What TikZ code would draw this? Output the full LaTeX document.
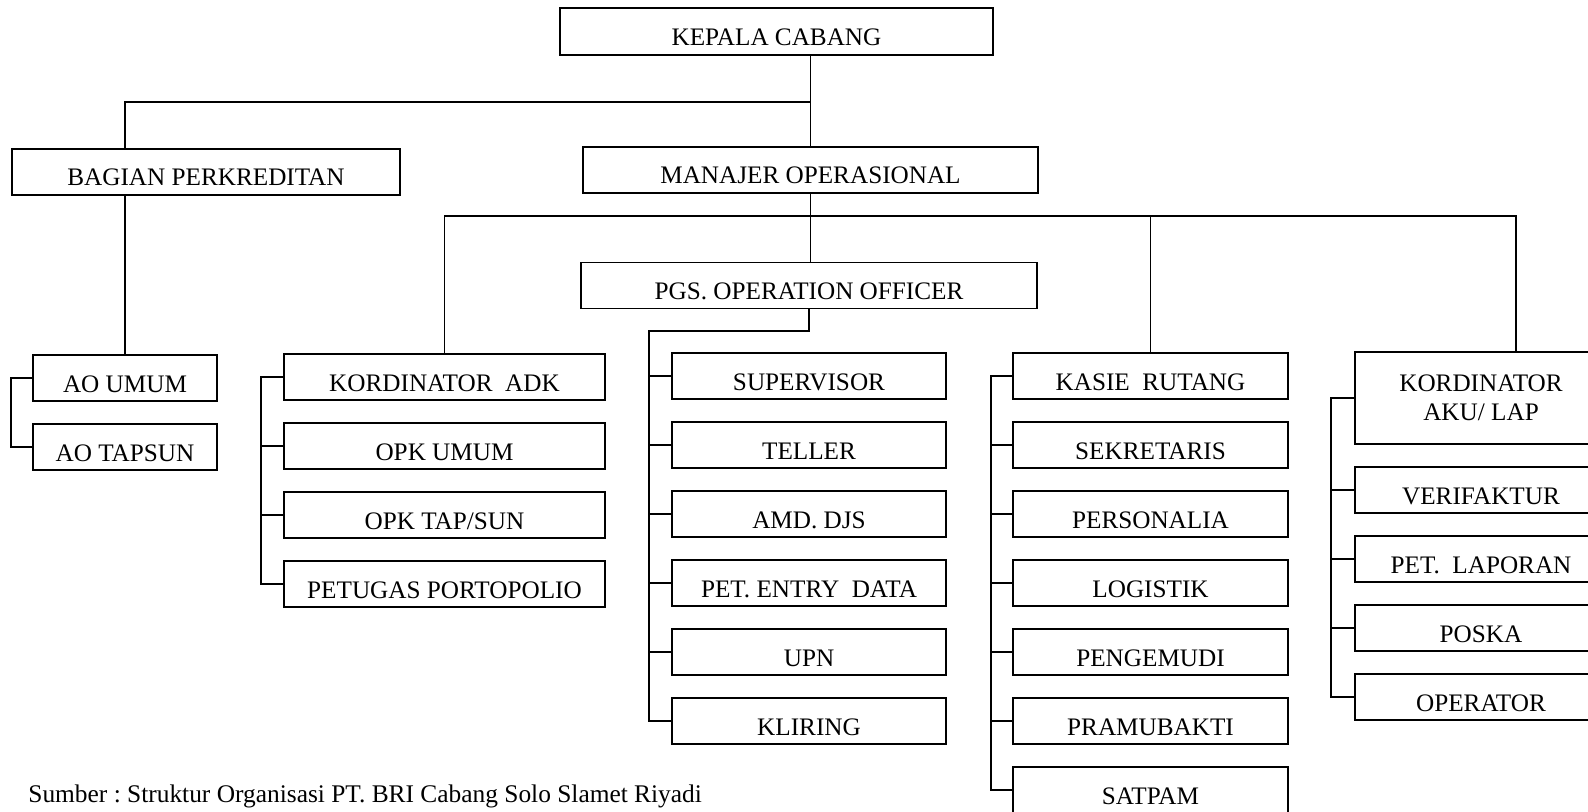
\documentclass[tikz,border=0pt]{standalone}
\usepackage{fontspec}
\setmainfont{Liberation Serif}
\usetikzlibrary{positioning}
\frenchspacing

\begin{document}
\begin{tikzpicture}[
  x=0.5pt, y=-0.5pt,
  node distance=11.5pt,
  box/.style={draw, line width=0.9pt, inner sep=0pt, outer sep=0pt, minimum height=23pt, text height=14pt, text depth=0pt, font=\fontsize{12.6}{14.5}\selectfont},
  aobox/.style={box, minimum width=92pt},
  adkbox/.style={box, minimum width=160.5pt},
  pgsbox/.style={box, minimum width=137pt},
  kasiebox/.style={box, minimum width=137.5pt},
  akubox/.style={box, minimum width=126pt},
  link/.style={line width=0.75pt}
]
\clip (0,0) rectangle (1588,812);
% pimpinan
\node[box, minimum width=216.5pt, minimum height=23.5pt] (kepala) at (776.5,31.5) {KEPALA CABANG};
\node[box, minimum width=194pt] (bagian) at (206,172) {BAGIAN PERKREDITAN};
\node[box, minimum width=227.5pt] (manajer) at (810.5,170) {MANAJER OPERASIONAL};
\node[box, minimum width=228pt] (pgs) at (809,285.5) {PGS. OPERATION OFFICER};
% perkreditan
\node[aobox] (aoumum) at (125,378) {AO UMUM};
\node[aobox, below=of aoumum] (aotapsun) {AO TAPSUN};
% adk
\node[adkbox] (adk) at (444.5,377) {KORDINATOR \ ADK};
\node[adkbox, below=of adk] (opkumum) {OPK UMUM};
\node[adkbox, below=of opkumum] (opktap) {OPK TAP/SUN};
\node[adkbox, below=of opktap] (portopolio) {PETUGAS PORTOPOLIO};
% operation officer
\node[pgsbox] (supervisor) at (809,376) {SUPERVISOR};
\node[pgsbox, below=of supervisor] (teller) {TELLER};
\node[pgsbox, below=of teller] (amd) {AMD. DJS};
\node[pgsbox, below=of amd] (entry) {PET. ENTRY \ DATA};
\node[pgsbox, below=of entry] (upn) {UPN};
\node[pgsbox, below=of upn] (kliring) {KLIRING};
% rutang
\node[kasiebox] (kasie) at (1150.5,376) {KASIE \ RUTANG};
\node[kasiebox, below=of kasie] (sekretaris) {SEKRETARIS};
\node[kasiebox, below=of sekretaris] (personalia) {PERSONALIA};
\node[kasiebox, below=of personalia] (logistik) {LOGISTIK};
\node[kasiebox, below=of logistik] (pengemudi) {PENGEMUDI};
\node[kasiebox, below=of pengemudi] (pramubakti) {PRAMUBAKTI};
\node[kasiebox, below=of pramubakti] (satpam) {SATPAM};
% aku / lap
\node[draw, line width=0.9pt, outer sep=0pt, minimum width=126pt, minimum height=46pt, align=center, font=\fontsize{12.6}{14.5}\selectfont] (akulap) at (1481,398) {KORDINATOR\\AKU/ LAP};
\node[akubox, below=of akulap] (verifaktur) {VERIFAKTUR};
\node[akubox, below=of verifaktur] (laporan) {PET. \ LAPORAN};
\node[akubox, below=of laporan] (poska) {POSKA};
\node[akubox, below=of poska] (operator) {OPERATOR};
\node[anchor=west, inner sep=0pt, font=\fontsize{12.7}{14.5}\selectfont] (sumber) at (28,796) {Sumber : Struktur Organisasi PT. BRI Cabang Solo Slamet Riyadi};

\coordinate (bus1) at (0,102);
\coordinate (bus2) at (1516,216);
\coordinate (pgsjoin) at (649,331);
\draw[link] (kepala.south -| manajer.north) -- (manajer.north);
\draw[link] (manajer.north |- bus1) -| (aoumum.north |- bagian.north);
\draw[link] (aoumum.north |- bagian.south) -- (aoumum.north);
\draw[link] (manajer.south) -- (manajer.south |- pgs.north);
\draw[link] (adk.north) |- (bus2) -- (bus2 |- akulap.north);
\draw[link] (kasie.north) -- (kasie.north |- bus2);
% brackets
\draw[link] (aoumum.west) -- ++(-22,0) |- (aotapsun.west);
\draw[link] (adk.west) -- ++(-23,0) |- (portopolio.west);
\draw[link] (opkumum.west) -- ++(-23,0);
\draw[link] (opktap.west) -- ++(-23,0);
\draw[link] (pgs.south) |- (pgsjoin) |- (kliring.west);
\draw[link] (supervisor.west) -- ++(-23,0);
\draw[link] (teller.west) -- ++(-23,0);
\draw[link] (amd.west) -- ++(-23,0);
\draw[link] (entry.west) -- ++(-23,0);
\draw[link] (upn.west) -- ++(-23,0);
\draw[link] (kasie.west) -- ++(-22,0) |- (satpam.west);
\draw[link] (sekretaris.west) -- ++(-22,0);
\draw[link] (personalia.west) -- ++(-22,0);
\draw[link] (logistik.west) -- ++(-22,0);
\draw[link] (pengemudi.west) -- ++(-22,0);
\draw[link] (pramubakti.west) -- ++(-22,0);
\draw[link] (akulap.west) -- ++(-24,0) |- (operator.west);
\draw[link] (verifaktur.west) -- ++(-24,0);
\draw[link] (laporan.west) -- ++(-24,0);
\draw[link] (poska.west) -- ++(-24,0);
\end{tikzpicture}
\end{document}
